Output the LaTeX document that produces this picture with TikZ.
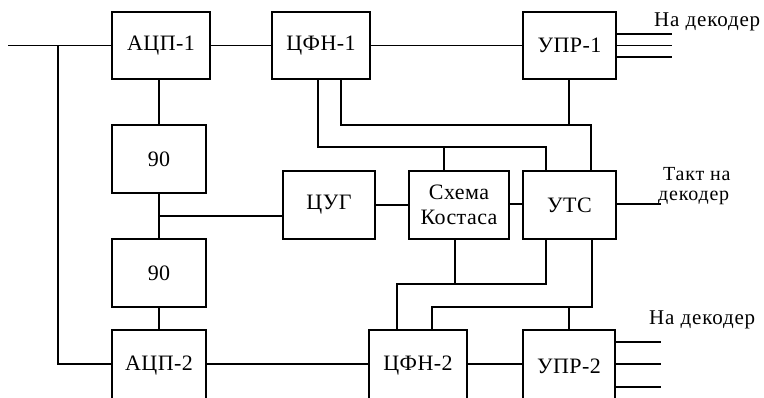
\documentclass[tikz,border=0pt]{standalone}
\usepackage{fontspec}
\setmainfont{Liberation Serif}
\newfontfamily\lblfont[LetterSpace=4]{Liberation Serif}
\newfontfamily\blkfont[LetterSpace=2]{Liberation Serif}
\begin{document}
\begin{tikzpicture}[x=1pt,y=-1pt,
  blk/.style={draw,line width=1.5pt,minimum height=67pt,inner sep=0pt,
    font=\blkfont\fontsize{22}{25}\selectfont,align=center},
  lowblk/.style={blk,minimum height=72pt},
  wire/.style={line width=1.5pt},
  lbl/.style={inner sep=0pt,font=\lblfont\fontsize{21}{17}\selectfont},
  lbltwo/.style={inner sep=0pt,font=\lblfont\fontsize{20}{20}\selectfont}]
\clip (0,0) rectangle (764,398);
\useasboundingbox (0,0) rectangle (764,398);
% blocks
\node[blk,minimum width=98pt] (A1) at (161,45.5) {АЦП-1};
\node[blk,minimum width=98pt] (F1) at (321,45.5) {ЦФН-1};
\node[blk,minimum width=93pt] (U1) at (569.5,45.5) {УПР-1};
\node[blk,minimum width=94pt,minimum height=68pt] (N1) at (159,159) {90};
\node[blk,minimum width=92pt,minimum height=68pt] (Z) at (329,205) {ЦУГ};
\node[blk,minimum width=100pt,minimum height=68pt] (K) at (459,205) {Схема\\Костаса};
\node[blk,minimum width=93pt,minimum height=68pt] (T) at (569.5,205) {УТС};
\node[blk,minimum width=94pt,minimum height=68pt] (N2) at (159,273) {90};
\node[lowblk,minimum width=94pt] (A2) at (159,366) {АЦП-2};
\node[lowblk,minimum width=98pt] (F2) at (418,366) {ЦФН-2};
\node[lowblk,minimum width=92pt] (U2) at (569,366) {УПР-2};
% texts
\node[lbl,anchor=base west] (t1) at (654,27) {На декодер};
\node[lbltwo,anchor=base west,align=left] (t2) at (658,201) {\hspace*{5pt}Такт на\\декодер};
\node[lbl,anchor=base west] (t4) at (649,325) {На декодер};
% free ends
\coordinate (in) at (8,45.5);
\coordinate (o1) at (672,34);
\coordinate (o2) at (672,45.5);
\coordinate (o3) at (672,57);
\coordinate (ot) at (661,204);
\coordinate (p1) at (661,342);
\coordinate (p2) at (661,364);
\coordinate (p3) at (661,387);
% left column
\draw[wire] (in) -- (A1.west);
\draw[wire] (in -| 58,0) -- (58,364) -- (A2.west |- 0,364);
\draw[wire] (A1.east) -- (F1.west);
\draw[wire] (F1.east) -- (U1.west);
\draw[wire] (U1.east |- o1) -- (o1);
\draw[wire] (U1.east |- o2) -- (o2);
\draw[wire] (U1.east |- o3) -- (o3);
\draw[wire] (N1.north) -- (N1.north |- A1.south);
\draw[wire] (N1.south) -- (N2.north);
\draw[wire] (N1.south |- 0,216) -- (Z.west |- 0,216);
\draw[wire] (N2.south) -- (A2.north);
\draw[wire] (Z.east) -- (K.west);
\draw[wire] (K.east |- 0,204) -- (T.west |- 0,204);
\draw[wire] (T.east |- ot) -- (ot);
\draw[wire] (A2.east |- 0,364) -- (F2.west |- 0,364);
\draw[wire] (F2.east |- 0,364) -- (U2.west |- 0,364);
\draw[wire] (U2.east |- p1) -- (p1);
\draw[wire] (U2.east |- p2) -- (p2);
\draw[wire] (U2.east |- p3) -- (p3);
% upper network
\draw[wire] (F1.south -| 318,0) -- (318,147) -- (546,147) -- (T.north -| 546,0);
\draw[wire] (444,147) -- (K.north -| 444,0);
\draw[wire] (F1.south -| 341,0) -- (341,125) -- (591,125) -- (T.north -| 591,0);
\draw[wire] (U1.south -| 569,0) -- (569,125);
% lower network
\draw[wire] (K.south -| 455,0) -- (455,284);
\draw[wire] (T.south -| 546,0) -- (546,284) -- (397,284) -- (F2.north -| 397,0);
\draw[wire] (T.south -| 592,0) -- (592,307) -- (432,307) -- (F2.north -| 432,0);
\draw[wire] (569,307) -- (U2.north -| 569,0);
\end{tikzpicture}
\end{document}
